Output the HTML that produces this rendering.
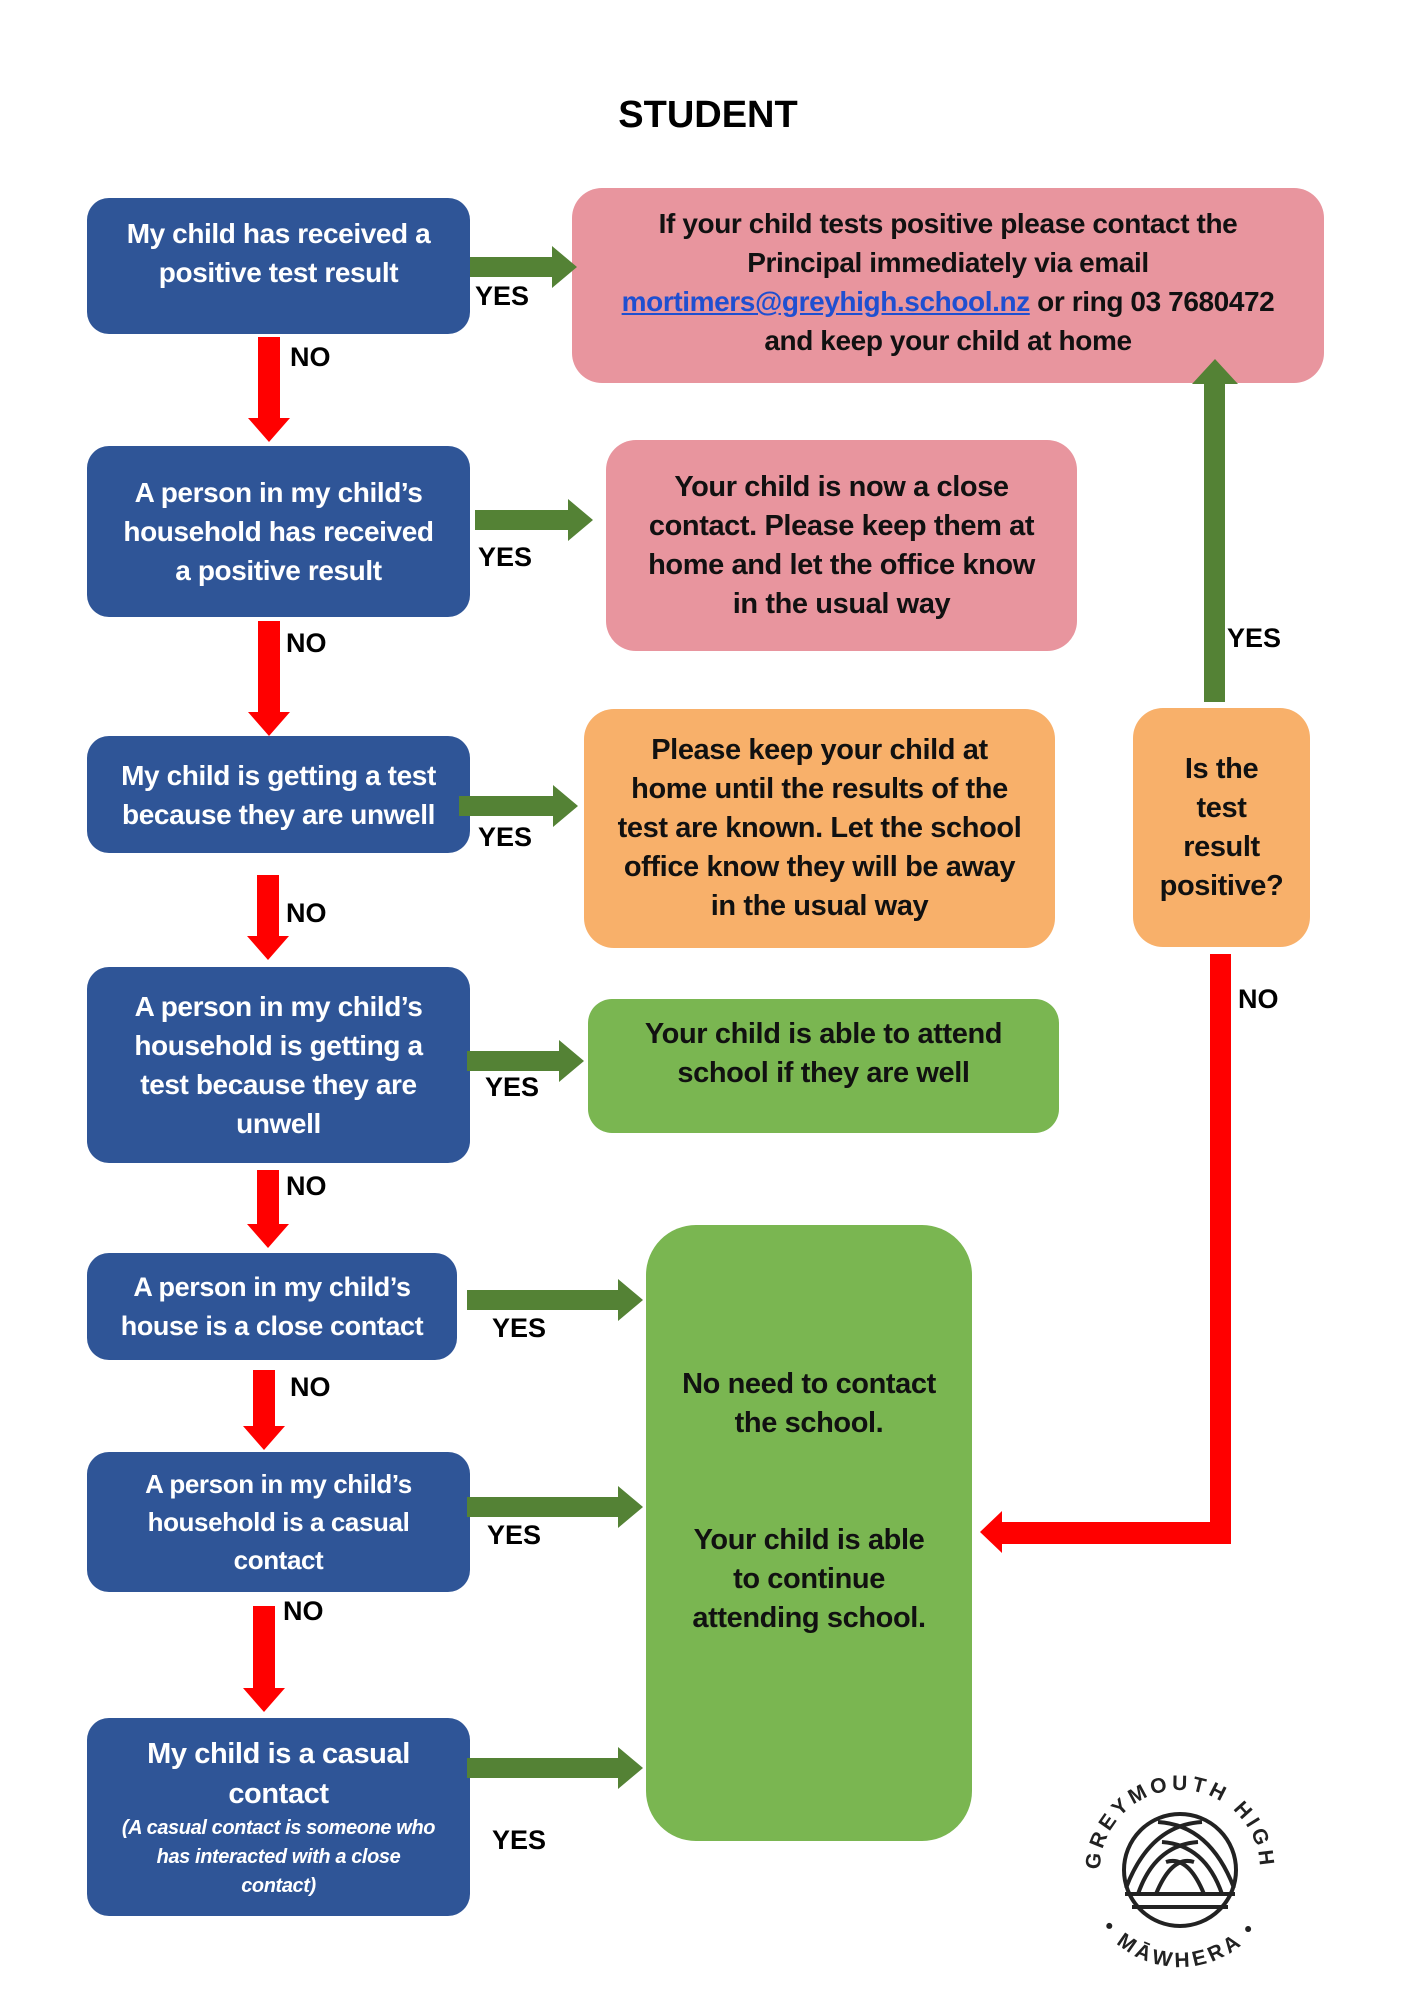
<!DOCTYPE html>
<html><head><meta charset="utf-8"><style>
body{margin:0;width:1416px;height:2000px;background:#fff;position:relative;overflow:hidden;font-family:"Liberation Sans",sans-serif;}
.b{position:absolute;display:flex;align-items:center;justify-content:center;text-align:center;font-weight:bold;font-size:28px;line-height:39px;box-sizing:border-box;letter-spacing:-0.4px}
.b>div{width:100%}
.blue{background:#2F5597;color:#fff;border-radius:22px}
.pink{background:#E8959E;color:#111;border-radius:30px}
.orange{background:#F8B06A;color:#111;border-radius:30px}
.green{background:#7AB651;color:#111;border-radius:24px}
.l{position:absolute;font-weight:bold;font-size:27px;color:#000}
svg{position:absolute;left:0;top:0}
</style></head><body>
<div class="l" style="left:0;width:1416px;text-align:center;top:94px;font-size:38px">STUDENT</div>

<div class="b blue" style="left:87px;top:198px;width:383px;height:136px;align-items:flex-start;padding-top:16px"><div>My child has received a<br>positive test result</div></div>
<div class="b blue" style="left:87px;top:446px;width:383px;height:171px"><div>A person in my child’s<br>household has received<br>a positive result</div></div>
<div class="b blue" style="left:87px;top:736px;width:383px;height:117px"><div>My child is getting a test<br>because they are unwell</div></div>
<div class="b blue" style="left:87px;top:967px;width:383px;height:196px"><div>A person in my child’s<br>household is getting a<br>test because they are<br>unwell</div></div>
<div class="b blue" style="left:87px;top:1253px;width:370px;height:107px;font-size:27px"><div>A person in my child’s<br>house is a close contact</div></div>
<div class="b blue" style="left:87px;top:1452px;width:383px;height:140px"><div style="font-size:26px;line-height:38px">A person in my child’s<br>household is a casual<br>contact</div></div>
<div class="b blue" style="left:87px;top:1718px;width:383px;height:198px"><div><div style="font-size:29px;line-height:40px">My child is a casual<br>contact</div><div style="font-style:italic;font-size:20px;line-height:29px">(A casual contact is someone who<br>has interacted with a close<br>contact)</div></div></div>

<div class="b pink" style="left:572px;top:188px;width:752px;height:195px;font-size:28px;align-items:flex-start;padding-top:16px"><div>If your child tests positive please contact the<br>Principal immediately via email<br><span style="color:#1F4FD0;text-decoration:underline">mortimers@greyhigh.school.nz</span> or ring 03 7680472<br>and keep your child at home</div></div>
<div class="b pink" style="left:606px;top:440px;width:471px;height:211px;font-size:29px"><div>Your child is now a close<br>contact. Please keep them at<br>home and let the office know<br>in the usual way</div></div>
<div class="b orange" style="left:584px;top:709px;width:471px;height:239px;font-size:29px"><div>Please keep your child at<br>home until the results of the<br>test are known. Let the school<br>office know they will be away<br>in the usual way</div></div>
<div class="b orange" style="left:1133px;top:708px;width:177px;height:239px;font-size:29px"><div>Is the<br>test<br>result<br>positive?</div></div>
<div class="b green" style="left:588px;top:999px;width:471px;height:134px;font-size:29px;align-items:flex-start;padding-top:16px"><div>Your child is able to attend<br>school if they are well</div></div>
<div class="b green" style="left:646px;top:1225px;width:326px;height:616px;border-radius:50px;font-size:29px;align-items:flex-start;padding-top:140px"><div>No need to contact<br>the school.<br><br><br>Your child is able<br>to continue<br>attending school.</div></div>

<svg width="1416" height="2000">
<g fill="#548235">
<polygon points="470,257 552,257 552,246 577,267 552,288 552,277 470,277"/>
<polygon points="475,510 568,510 568,499 593,520 568,541 568,530 475,530"/>
<polygon points="459,796 553,796 553,785 578,806 553,827 553,816 459,816"/>
<polygon points="467,1051 559,1051 559,1040 584,1061 559,1082 559,1071 467,1071"/>
<polygon points="467,1290 618,1290 618,1279 643,1300 618,1321 618,1310 467,1310"/>
<polygon points="467,1497 618,1497 618,1486 643,1507 618,1528 618,1517 467,1517"/>
<polygon points="467,1758 618,1758 618,1747 643,1768 618,1789 618,1778 467,1778"/>
<polygon points="1204,702 1204,384 1192,384 1215,359 1238,384 1225,384 1225,702"/>
</g>
<g fill="#FF0000">
<polygon points="258,337 280,337 280,418 290,418 269,442 248,418 258,418"/>
<polygon points="258,621 280,621 280,712 290,712 269,736 248,712 258,712"/>
<polygon points="257,875 279,875 279,936 289,936 268,960 247,936 257,936"/>
<polygon points="257,1170 279,1170 279,1224 289,1224 268,1248 247,1224 257,1224"/>
<polygon points="253,1370 275,1370 275,1426 285,1426 264,1450 243,1426 253,1426"/>
<polygon points="253,1606 275,1606 275,1688 285,1688 264,1712 243,1688 253,1688"/>
<polygon points="1210,954 1231,954 1231,1544 1002,1544 1002,1553 980,1532 1002,1511 1002,1522 1210,1522"/>
</g>
<g transform="translate(1180,1870)" fill="none" stroke="#222" stroke-width="4">
<circle r="56"/>
<path d="M-54,18 Q-30,-45 22,-48"/><path d="M54,18 Q30,-45 -22,-48"/>
<path d="M-42,24 Q-25,-25 18,-28"/><path d="M42,24 Q25,-25 -18,-28"/>
<path d="M-24,24 Q-8,-15 14,-8"/><path d="M24,24 Q8,-15 -14,-8"/>
<line x1="-55" y1="24" x2="55" y2="24"/><line x1="-48" y1="37" x2="48" y2="37"/>
</g>
<defs>
<path id="c1" d="M1180,1950 A80,80 0 1 1 1180.1,1950"/>
<path id="c2" d="M1083,1870 A97,97 0 0 0 1277,1870"/>
</defs>
<text font-family="Liberation Sans" font-size="21" font-weight="bold" fill="#222" letter-spacing="4"><textPath href="#c1" startOffset="50%" text-anchor="middle">GREYMOUTH HIGH</textPath></text>
<text font-family="Liberation Sans" font-size="21" font-weight="bold" fill="#222" letter-spacing="4"><textPath href="#c2" startOffset="50%" text-anchor="middle">•  MĀWHERA  •</textPath></text>
</svg>

<div class="l" style="left:475px;top:281px">YES</div>
<div class="l" style="left:478px;top:542px">YES</div>
<div class="l" style="left:478px;top:822px">YES</div>
<div class="l" style="left:485px;top:1072px">YES</div>
<div class="l" style="left:492px;top:1313px">YES</div>
<div class="l" style="left:487px;top:1520px">YES</div>
<div class="l" style="left:492px;top:1825px">YES</div>
<div class="l" style="left:1227px;top:623px">YES</div>
<div class="l" style="left:290px;top:342px">NO</div>
<div class="l" style="left:286px;top:628px">NO</div>
<div class="l" style="left:286px;top:898px">NO</div>
<div class="l" style="left:286px;top:1171px">NO</div>
<div class="l" style="left:290px;top:1372px">NO</div>
<div class="l" style="left:283px;top:1596px">NO</div>
<div class="l" style="left:1238px;top:984px">NO</div>
</body></html>
